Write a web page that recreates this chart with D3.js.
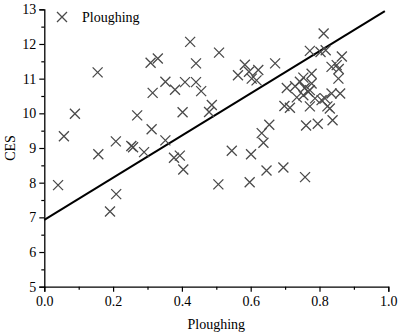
<!DOCTYPE html>
<html><head><meta charset="utf-8">
<script src="https://cdn.jsdelivr.net/npm/d3@7"></script>
<style>body{margin:0;background:#fff}svg{display:block}text{font-family:"Liberation Serif","Times New Roman",serif;fill:#000}</style>
</head><body><svg id="c" width="398" height="335"></svg>
<script>
const ploughing = [0.04,0.057,0.089,0.155,0.157,0.208,0.209,0.191,0.253,0.258,0.27,0.29,
 0.312,0.309,0.33,0.315,0.352,0.38,0.352,0.377,0.394,0.404,0.402,0.409,0.424,0.441,0.441,0.456,0.479,0.487,
 0.508,0.506,0.545,0.583,0.563,0.595,0.622,0.603,0.617,0.671,0.601,0.597,0.632,0.637,0.654,0.646,0.695,
 0.705,0.698,0.714,0.729,0.743,0.753,0.777,0.734,0.753,0.767,0.772,0.757,0.777,0.787,0.806,0.816,0.835,0.86,
 0.772,0.823,0.83,0.761,0.795,0.838,0.758,0.812,0.772,0.803,0.818,0.865,0.835,0.85,0.856,0.855];
const ces = [7.93,9.34,9.99,11.18,8.82,9.19,7.67,7.17,9.06,9.02,9.94,8.88,
 9.54,11.46,11.58,10.59,10.91,10.68,9.22,8.72,8.78,8.38,10.03,10.9,12.06,11.44,10.9,10.64,10.04,10.24,
 11.75,7.95,8.92,11.4,11.1,11.2,11.25,11.0,10.95,11.44,8.82,8.01,9.43,9.15,9.67,8.35,8.44,
 10.73,10.21,10.16,10.78,10.91,11.03,11.14,10.46,10.52,10.62,10.67,10.73,10.86,10.43,10.38,10.43,10.57,10.57,
 10.2,10.2,10.14,9.65,9.7,9.8,8.16,12.3,11.8,11.77,11.82,11.64,11.34,11.39,11.28,11.0];
const fitX = [0, 0.99];
const fitY = [6.93, 12.95];
const xTicks = [0,0.2,0.4,0.6,0.8,1.0];
const yTicks = [5,6,7,8,9,10,11,12,13];
const seriesName = "Ploughing";
const xTitle = "Ploughing", yTitle = "CES";

const svg = d3.select("#c");
const x = d3.scaleLinear().domain([0,1]).range([44.3,388.3]);
const y = d3.scaleLinear().domain([5,13]).range([286.7,9.3]);

// axes
const xa = d3.axisBottom(x).tickValues(xTicks).tickFormat(d3.format(".1f")).tickSizeOuter(0).tickSize(5).tickPadding(4);
const ya = d3.axisLeft(y).tickValues(yTicks).tickFormat(d3.format("d")).tickSizeOuter(0).tickSize(5).tickPadding(3);
const gx = svg.append("g").attr("transform",`translate(0,${y(5)})`).call(xa);
const gy = svg.append("g").attr("transform",`translate(${x(0)},0)`).call(ya);
svg.append("g").attr("transform",`translate(0,${y(5)})`).call(d3.axisBottom(x).tickValues(d3.range(0.1,1,0.2)).tickSize(3).tickFormat("").tickSizeOuter(0)).select(".domain").remove();
svg.append("g").attr("transform",`translate(${x(0)},0)`).call(d3.axisLeft(y).tickValues(d3.range(5.5,13,1)).tickSize(3).tickFormat("").tickSizeOuter(0)).select(".domain").remove();
svg.selectAll(".domain").attr("stroke","#000").attr("stroke-width",1.3);
svg.selectAll(".tick line").attr("stroke","#000").attr("stroke-width",1.2);
svg.selectAll(".tick text").style("font-size","14px").style("font-family","Liberation Serif");

svg.append("text").attr("x",(x(0)+x(1))/2).attr("y",329).attr("text-anchor","middle").style("font-size","14px").text(xTitle);
svg.append("text").attr("transform",`translate(15,${(y(5)+y(13))/2}) rotate(-90)`).attr("text-anchor","middle").style("font-size","14px").text(yTitle);

// fit line
svg.append("line").attr("x1",x(fitX[0])).attr("y1",y(fitY[0])).attr("x2",x(fitX[1])).attr("y2",y(fitY[1]))
  .attr("stroke","#000").attr("stroke-width",2);

// points
const s = 5;
const cross = (g,cx,cy)=>{
  g.append("path").attr("d",`M${cx-s},${cy-s}L${cx+s},${cy+s}M${cx-s},${cy+s}L${cx+s},${cy-s}`)
   .attr("stroke","#4a4a4a").attr("stroke-width",1.3).attr("fill","none");
};
const pg = svg.append("g");
ploughing.forEach((v,i)=>cross(pg,x(v),y(ces[i])));

// legend
const lg = svg.append("g");
cross(lg,62,17);
lg.append("text").attr("x",82).attr("y",22).style("font-size","14px").text(seriesName);
</script></body></html>
